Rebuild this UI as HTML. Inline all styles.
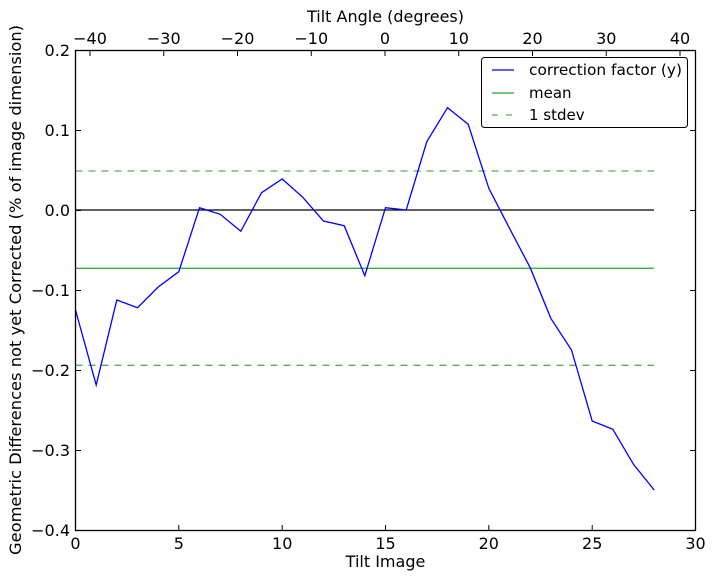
<!DOCTYPE html>
<html><head><style>body{margin:0;background:#fff}svg{display:block}text{font-family:"DejaVu Sans","Liberation Sans",sans-serif;font-size:16px;fill:#000}</style></head><body>
<svg width="714" height="579" xmlns="http://www.w3.org/2000/svg">
<rect width="714" height="579" fill="#fff"/>
<g stroke-width="1.3" fill="none">
<line x1="75.5" y1="210" x2="654" y2="210" stroke="#000"/>
<line x1="75.5" y1="268.3" x2="654" y2="268.3" stroke="#2ca02c" stroke-opacity="0.9"/>
<line x1="75.5" y1="171" x2="654" y2="171" stroke="#55b055" stroke-dasharray="7,6"/>
<line x1="75.5" y1="365.3" x2="654" y2="365.3" stroke="#55b055" stroke-dasharray="7,6"/>
<polyline stroke="#0000ff" points="75.5,310 96.2,385 116.8,300 137.5,307.7 158.2,287 178.8,271.7 199.5,207.7 220.2,214.3 240.8,231.3 261.5,192.7 282.2,179 302.8,197.3 323.5,221 344.2,225.7 364.8,275.7 385.5,207.7 406.2,210 426.8,141.7 447.5,107.7 468.2,124.3 488.8,188.3 509.5,228.3 530.2,267.7 550.8,318.3 571.5,350 592.2,421 612.8,429.3 633.5,464.3 654.2,490"/>
</g>
<rect x="75.5" y="50.5" width="620" height="480" fill="none" stroke="#000" stroke-width="1.3"/>
<g stroke="#000" stroke-width="1">
<line x1="75.5" y1="530.5" x2="75.5" y2="525"/><line x1="178.8" y1="530.5" x2="178.8" y2="525"/><line x1="282.2" y1="530.5" x2="282.2" y2="525"/><line x1="385.5" y1="530.5" x2="385.5" y2="525"/><line x1="488.8" y1="530.5" x2="488.8" y2="525"/><line x1="592.2" y1="530.5" x2="592.2" y2="525"/>
<line x1="90" y1="50.5" x2="90" y2="56"/><line x1="163.75" y1="50.5" x2="163.75" y2="56"/><line x1="237.5" y1="50.5" x2="237.5" y2="56"/><line x1="311.25" y1="50.5" x2="311.25" y2="56"/><line x1="385" y1="50.5" x2="385" y2="56"/><line x1="458.75" y1="50.5" x2="458.75" y2="56"/><line x1="532.5" y1="50.5" x2="532.5" y2="56"/><line x1="606.25" y1="50.5" x2="606.25" y2="56"/><line x1="680" y1="50.5" x2="680" y2="56"/>
<line x1="75.5" y1="130.5" x2="81" y2="130.5"/><line x1="75.5" y1="210.5" x2="81" y2="210.5"/><line x1="75.5" y1="290.5" x2="81" y2="290.5"/><line x1="75.5" y1="370.5" x2="81" y2="370.5"/><line x1="75.5" y1="450.5" x2="81" y2="450.5"/>
<line x1="695.5" y1="130.5" x2="690" y2="130.5"/><line x1="695.5" y1="210.5" x2="690" y2="210.5"/><line x1="695.5" y1="290.5" x2="690" y2="290.5"/><line x1="695.5" y1="370.5" x2="690" y2="370.5"/><line x1="695.5" y1="450.5" x2="690" y2="450.5"/>
</g>
<g text-anchor="middle">
<text x="75.5" y="549">0</text><text x="178.8" y="549">5</text><text x="282.2" y="549">10</text><text x="385.5" y="549">15</text><text x="488.8" y="549">20</text><text x="592.2" y="549">25</text><text x="695.5" y="549">30</text>
<text x="90" y="44">−40</text><text x="163.75" y="44">−30</text><text x="237.5" y="44">−20</text><text x="311.25" y="44">−10</text><text x="385" y="44">0</text><text x="458.75" y="44">10</text><text x="532.5" y="44">20</text><text x="606.25" y="44">30</text><text x="680" y="44">40</text>
<text x="385.5" y="567">Tilt Image</text>
<text x="385.5" y="22">Tilt Angle (degrees)</text>
<text transform="translate(21,290) rotate(-90)" textLength="530" lengthAdjust="spacingAndGlyphs">Geometric Differences not yet Corrected (% of image dimension)</text>
</g>
<g text-anchor="end">
<text x="70" y="56">0.2</text><text x="70" y="136">0.1</text><text x="70" y="216">0.0</text><text x="70" y="296">−0.1</text><text x="70" y="376">−0.2</text><text x="70" y="456">−0.3</text><text x="70" y="536">−0.4</text>
</g>
<rect x="481.5" y="57.5" width="206" height="70" rx="3" fill="#fff" stroke="#000" stroke-width="1"/>
<line x1="492" y1="70" x2="514" y2="70" stroke="#0000ff" stroke-width="1.3"/>
<line x1="492" y1="93" x2="514" y2="93" stroke="#2ca02c" stroke-width="1.3"/>
<line x1="492" y1="115" x2="514" y2="115" stroke="#55b055" stroke-width="1.3" stroke-dasharray="6,8"/>
<text x="529" y="75" style="font-size:15px" textLength="153" lengthAdjust="spacingAndGlyphs">correction factor (y)</text>
<text x="529" y="98" style="font-size:15px">mean</text>
<text x="529" y="120" style="font-size:15px">1 stdev</text>
</svg>
</body></html>
